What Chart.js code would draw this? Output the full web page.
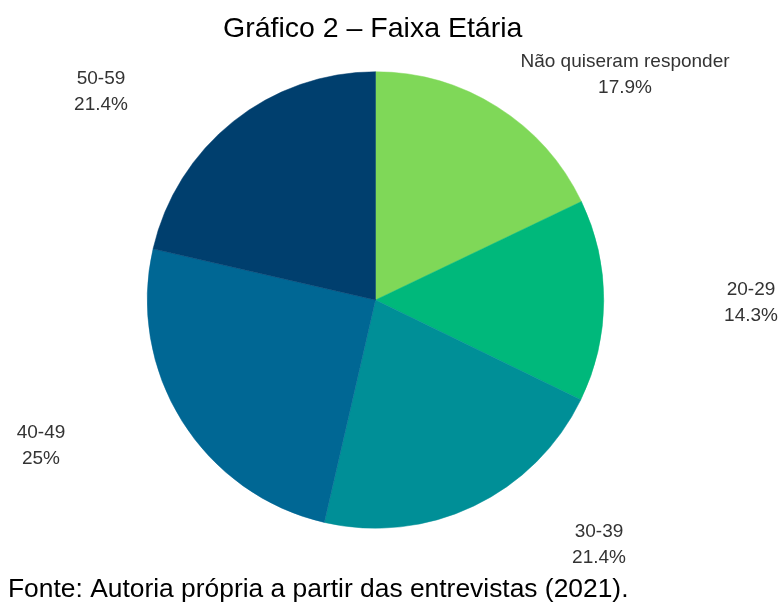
<!DOCTYPE html>
<html>
<head>
<meta charset="utf-8">
<script src="https://cdn.jsdelivr.net/npm/chart.js@4/dist/chart.umd.min.js"></script>
<style>
  html, body { margin: 0; padding: 0; background: #ffffff; }
  #wrap { width: 781px; height: 603px; }
</style>
</head>
<body>
<div id="wrap"><canvas id="c" width="781" height="603"></canvas></div>
<script>
// ---- data ----
const categories = ["Não quiseram responder", "20-29", "30-39", "40-49", "50-59"];
const percentValues = [17.9, 14.3, 21.4, 25, 21.4];
const percentLabels = ["17.9%", "14.3%", "21.4%", "25%", "21.4%"];
const sliceColors = ["#7fd858", "#00b87b", "#008f97", "#006794", "#003f6e"];
const titleText = "Gráfico 2 – Faixa Etária";
const sourceText = "Fonte: Autoria própria a partir das entrevistas (2021).";

// ---- layout (label offsets from pie centre, first-line baseline) ----
const labelOffsets = [[249.5, -233], [375.5, -5], [223.5, 237], [-334.5, 138], [-274.5, -216]];
const LINE_GAP = 26;

const textPlugin = {
  id: 'textPlugin',
  afterDraw(chart) {
    const ctx = chart.ctx;
    const meta = chart.getDatasetMeta(0);
    const arc0 = meta.data[0];
    const cx = arc0.x, cy = arc0.y;
    ctx.save();
    // title
    ctx.fillStyle = '#000000';
    ctx.font = '28.5px "Liberation Sans", Arial, sans-serif';
    ctx.textAlign = 'left';
    ctx.textBaseline = 'alphabetic';
    ctx.fillText(titleText, 223, 36.5);
    // source
    ctx.font = '26.4px "Liberation Sans", Arial, sans-serif';
    ctx.fillText(sourceText, 8, 597);
    // slice labels
    ctx.fillStyle = '#333333';
    ctx.font = '19px "Liberation Sans", Arial, sans-serif';
    ctx.textAlign = 'center';
    meta.data.forEach((arc, i) => {
      const [dx, dy] = labelOffsets[i];
      ctx.fillText(categories[i], cx + dx, cy + dy);
      ctx.fillText(percentLabels[i], cx + dx, cy + dy + LINE_GAP);
    });
    ctx.restore();
  }
};

new Chart(document.getElementById('c'), {
  type: 'pie',
  data: {
    labels: categories,
    datasets: [{
      data: percentValues,
      backgroundColor: sliceColors,
      borderColor: sliceColors,
      borderWidth: 0.5
    }]
  },
  options: {
    responsive: false,
    animation: false,
    layout: { padding: { top: 71.5, bottom: 74.5, left: 147, right: 177 } },
    plugins: {
      legend: { display: false },
      title: { display: false },
      tooltip: { enabled: false }
    }
  },
  plugins: [textPlugin]
});
</script>
</body>
</html>
